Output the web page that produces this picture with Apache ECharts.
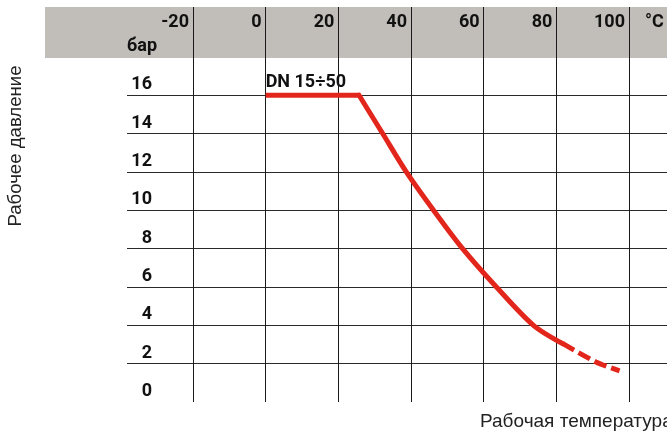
<!DOCTYPE html>
<html>
<head>
<meta charset="utf-8">
<script src="https://cdn.jsdelivr.net/npm/echarts@6/dist/echarts.min.js"></script>
<style>
html,body{margin:0;padding:0;background:#fff;}
#chart{width:667px;height:432px;}
</style>
</head>
<body>
<div id="chart"></div>
<script>
// ---- data ----
const xTicks = [-20, 0, 20, 40, 60, 80, 100];
const yTicks = [0, 2, 4, 6, 8, 10, 12, 14, 16];
const flatTemp = [0, 25.7];
const flatPressure = [16, 16];
const curveTemp = [25.7, 32.2, 38.7, 46.2, 54.2, 63.5, 73.7, 81.8];
const curvePressure = [16, 14, 12, 10, 8, 6, 4, 3.04];
const dashTemp = [81.8, 90.9, 97.4];
const dashPressure = [3.04, 2.09, 1.62];
const seriesLabel = 'DN 15÷50';
const xUnit = '°C';
const yUnit = 'бар';
const yTitle = 'Рабочее давление';
const xTitle = 'Рабочая температура';

const RED = '#e3261c';
const BOLD = {fontFamily: 'Roboto', fontWeight: 'bold', fontSize: 18, color: '#111'};

const chart = echarts.init(document.getElementById('chart'), null, {renderer: 'canvas'});

const flatData = flatTemp.map((t, i) => i === 0 ? {
  value: [t, flatPressure[i]],
  label: Object.assign({show: true, position: 'top', align: 'left', distance: 3, formatter: seriesLabel}, BOLD)
} : [t, flatPressure[i]]);

const option = {
  animation: false,
  backgroundColor: '#fff',
  grid: [
    {left: 193, right: 38, top: 7, bottom: 30},
    {left: 127, right: 0, top: 7, bottom: 30}
  ],
  xAxis: [
    {
      gridIndex: 0, type: 'value', min: -20, max: 100, interval: 20, position: 'top', z: 2,
      axisLine: {show: false}, axisTick: {show: false},
      splitLine: {show: true, lineStyle: {color: '#1a1a1a', width: 1}},
      axisLabel: Object.assign({
        inside: true, margin: 15, align: 'right', verticalAlign: 'middle', padding: [0, 4, 0, 0],
        showMinLabel: true, showMaxLabel: true,
        formatter: v => xTicks.includes(v) ? String(v) : ''
      }, BOLD)
    },
    {gridIndex: 1, type: 'value', min: 0, max: 1, show: false}
  ],
  yAxis: [
    {gridIndex: 0, type: 'value', min: 0, max: 20.6, show: false},
    {
      gridIndex: 1, type: 'value', min: 0, max: 20.6, interval: 2, z: 0,
      axisLine: {show: false}, axisTick: {show: false},
      splitLine: {show: true, showMinLine: false, lineStyle: {color: '#2a2a2a', width: 1}},
      axisLabel: Object.assign({
        inside: true, margin: 25, align: 'right', verticalAlign: 'bottom', lineHeight: 21,
        showMinLabel: true, showMaxLabel: false,
        formatter: v => yTicks.includes(v) ? String(v) : ''
      }, BOLD)
    }
  ],
  graphic: [
    {type: 'rect', z: 1, shape: {x: 45, y: 7, width: 622, height: 51}, style: {fill: '#c1bdb8'}},
    {type: 'text', z: 3, x: 157, y: 46, style: {text: yUnit, align: 'right', verticalAlign: 'middle', font: 'bold 18px Roboto', fill: '#111'}},
    {type: 'text', z: 3, x: 645, y: 22, style: {text: xUnit, align: 'left', verticalAlign: 'middle', font: 'bold 18px Roboto', fill: '#111'}},
    {type: 'text', z: 3, x: 16, y: 146, rotation: Math.PI / 2, style: {text: yTitle, align: 'center', verticalAlign: 'middle', font: '18.6px "Liberation Sans"', fill: '#222'}},
    {type: 'text', z: 3, x: 480, y: 422, style: {text: xTitle, align: 'left', verticalAlign: 'middle', font: '19px "Liberation Sans"', fill: '#222'}}
  ],
  series: [
    {
      type: 'line', xAxisIndex: 0, yAxisIndex: 0, z: 4,
      data: flatData,
      symbol: 'circle', symbolSize: 1, showSymbol: true,
      itemStyle: {color: 'rgba(0,0,0,0)'},
      lineStyle: {color: RED, width: 5}
    },
    {
      type: 'line', xAxisIndex: 0, yAxisIndex: 0, z: 4,
      data: curveTemp.map((t, i) => [t, curvePressure[i]]),
      smooth: 0.3, symbol: 'none',
      lineStyle: {color: RED, width: 5, cap: 'round'}
    },
    {
      type: 'line', xAxisIndex: 0, yAxisIndex: 0, z: 4,
      data: dashTemp.map((t, i) => [t, dashPressure[i]]),
      smooth: 0.3, symbol: 'none',
      lineStyle: {color: RED, width: 5, type: [13, 5]}
    }
  ]
};
chart.setOption(option);
</script>
</body>
</html>
